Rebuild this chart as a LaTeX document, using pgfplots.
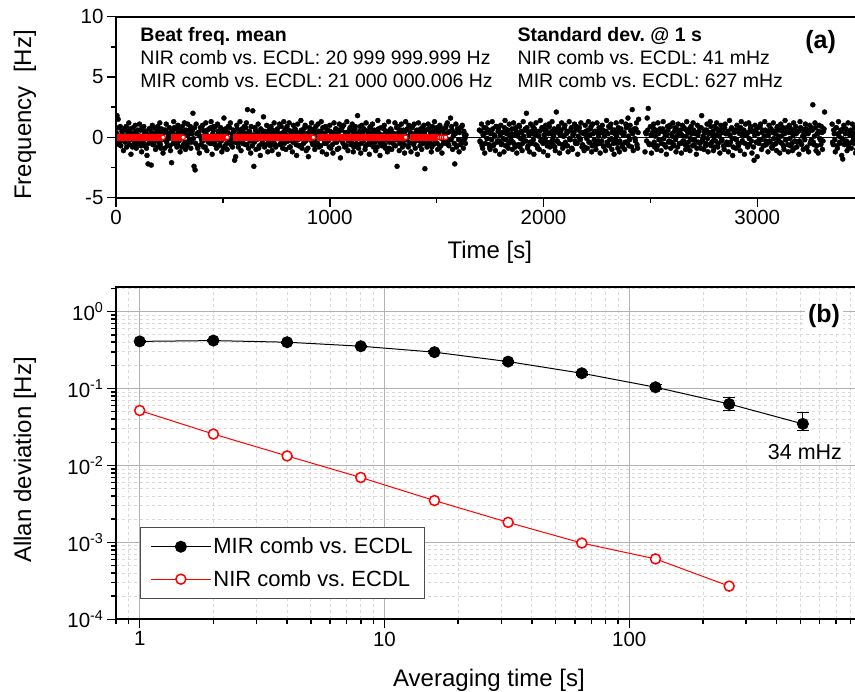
\documentclass[border=0pt]{standalone}
\usepackage{fontspec}
\setmainfont{Liberation Sans}
\usepackage{pgfplots}
\usepackage{pgfplotstable}
\pgfplotsset{compat=1.18}

% beat frequency record (panel a), black points, first half of samples
\pgfplotstableread[row sep=\\]{
t y\\
0 0.4\\ 5 1.8\\ 10 1.5\\ 15 -0.6\\ 20 0.9\\ 25 -0.3\\ 30 0.2\\ 35 -1.1\\ 40 0.7\\ 45 0.1\\
50 -0.8\\ 55 0.5\\ 60 1.2\\ 65 -0.2\\ 70 -1.4\\ 75 0.3\\ 80 0.8\\ 85 -0.5\\ 90 1.0\\ 95 -0.9\\
100 0.2\\ 105 -0.4\\ 110 1.1\\ 115 0.6\\ 120 -1.2\\ 125 -0.1\\ 130 0.9\\ 135 -0.7\\ 140 0.4\\ 145 -1.5\\
150 -2.2\\ 155 0.7\\ 160 -0.3\\ 165 -2.3\\ 170 1.0\\ 175 -0.6\\ 180 0.2\\ 185 -1.0\\ 190 0.5\\ 195 0.9\\
200 -0.4\\ 205 1.2\\ 210 -0.9\\ 215 0.3\\ 220 -1.3\\ 225 0.6\\ 230 -0.2\\ 235 1.1\\ 240 -0.7\\ 245 0.0\\
250 0.8\\ 255 -1.1\\ 260 -2.1\\ 265 0.4\\ 270 1.3\\ 275 -0.5\\ 280 0.7\\ 285 -0.8\\ 290 1.0\\ 295 -0.3\\
300 -1.2\\ 305 0.5\\ 310 0.9\\ 315 -0.6\\ 320 1.2\\ 325 -1.0\\ 330 0.2\\ 335 1.1\\ 340 -0.4\\ 345 0.6\\
350 -0.9\\ 355 0.3\\ 360 2.0\\ 365 -2.4\\ 370 -2.7\\ 375 1.1\\ 380 -0.7\\ 385 0.4\\ 390 -1.3\\ 395 0.8\\
400 -0.2\\ 405 1.0\\ 410 -0.8\\ 415 0.5\\ 420 1.2\\ 425 -1.1\\ 430 0.1\\ 435 0.7\\ 440 -0.5\\ 445 1.3\\
450 -1.4\\ 455 0.6\\ 460 -0.3\\ 465 0.9\\ 470 -0.9\\ 475 1.1\\ 480 0.2\\ 485 -0.6\\ 490 0.8\\ 495 -1.2\\
500 0.4\\ 505 1.6\\ 510 -0.7\\ 515 0.3\\ 520 -1.0\\ 525 0.9\\ 530 -0.4\\ 535 1.2\\ 540 -0.1\\ 545 -0.8\\
550 0.6\\ 555 -1.9\\ 560 -1.6\\ 565 1.0\\ 570 -0.5\\ 575 0.3\\ 580 1.3\\ 585 -1.1\\ 590 0.7\\ 595 -0.2\\
600 0.9\\ 605 -0.6\\ 610 1.2\\ 615 2.3\\ 620 -0.9\\ 625 0.5\\ 630 -1.3\\ 635 0.1\\ 640 2.2\\ 645 -2.4\\
650 0.8\\ 655 -1.0\\ 660 0.3\\ 665 1.1\\ 670 -0.7\\ 675 -1.5\\ 680 0.6\\ 685 -0.3\\ 690 1.7\\ 695 -0.8\\
700 0.2\\ 705 1.0\\ 710 -1.2\\ 715 0.5\\ 720 -0.4\\ 725 0.9\\ 730 -1.1\\ 735 0.4\\ 740 1.2\\ 745 -0.6\\
750 -0.1\\ 755 0.7\\ 760 -1.4\\ 765 1.1\\ 770 -0.5\\ 775 0.3\\ 780 -0.9\\ 785 1.3\\ 790 0.6\\ 795 -1.0\\
800 0.9\\ 805 -0.3\\ 810 1.2\\ 815 -0.8\\ 820 0.4\\ 825 -1.2\\ 830 1.0\\ 835 -0.2\\ 840 0.6\\ 845 -1.5\\
850 1.1\\ 855 -0.7\\ 860 0.2\\ 865 1.4\\ 870 -0.9\\ 875 0.5\\ 880 -0.4\\ 885 1.0\\ 890 -1.1\\ 895 0.3\\
900 -1.6\\ 905 0.8\\ 910 -0.2\\ 915 1.2\\ 920 -0.6\\ 925 0.4\\ 930 -1.0\\ 935 0.9\\ 940 -0.3\\ 945 1.1\\
950 -0.8\\ 955 0.5\\ 960 1.3\\ 965 -1.2\\ 970 0.1\\ 975 -0.5\\ 980 0.9\\ 985 -1.4\\ 990 0.6\\ 995 -0.1\\
1000 1.0\\ 1005 -0.9\\ 1010 0.3\\ 1015 -1.3\\ 1020 1.2\\ 1025 -0.4\\ 1030 0.7\\ 1035 -1.0\\ 1040 0.2\\ 1045 1.1\\
1050 -1.7\\ 1055 0.6\\ 1060 -0.3\\ 1065 1.0\\ 1070 -0.8\\ 1075 0.4\\ 1080 1.3\\ 1085 -1.1\\ 1090 -0.2\\ 1095 0.8\\
1100 -0.6\\ 1105 1.1\\ 1110 -1.2\\ 1115 0.3\\ 1120 0.9\\ 1125 -0.5\\ 1130 1.8\\ 1135 -0.9\\ 1140 0.5\\ 1145 -1.3\\
1150 1.0\\ 1155 -0.2\\ 1160 0.7\\ 1165 -1.0\\ 1170 1.2\\ 1175 -0.6\\ 1180 0.3\\ 1185 -1.4\\ 1190 0.9\\ 1195 -0.4\\
1200 1.1\\ 1205 -0.8\\ 1210 0.4\\ 1215 -1.1\\ 1220 0.6\\ 1225 1.4\\ 1230 -0.3\\ 1235 -1.5\\ 1240 0.8\\ 1245 -0.7\\
1250 0.2\\ 1255 1.0\\ 1260 -0.9\\ 1265 0.5\\ 1270 -1.2\\ 1275 1.3\\ 1280 -0.4\\ 1285 0.7\\ 1290 -1.0\\ 1295 0.3\\
1300 -0.6\\ 1305 1.2\\ 1310 -0.2\\ 1315 -2.4\\ 1320 0.9\\ 1325 -1.1\\ 1330 0.4\\ 1335 1.1\\ 1340 -0.8\\ 1345 0.6\\
1350 -1.3\\ 1355 1.3\\ 1360 0.1\\ 1365 -0.7\\ 1370 1.0\\ 1375 -0.4\\ 1380 -1.2\\ 1385 0.8\\ 1390 -0.1\\ 1395 1.1\\
1400 -0.9\\ 1405 0.5\\ 1410 -1.4\\ 1415 1.2\\ 1420 -0.3\\ 1425 0.7\\ 1430 -1.0\\ 1435 0.3\\ 1440 1.0\\ 1445 -2.6\\
1450 0.6\\ 1455 -0.8\\ 1460 1.1\\ 1465 -0.5\\ 1470 0.2\\ 1475 -1.2\\ 1480 0.9\\ 1485 -0.6\\ 1490 1.3\\ 1495 -0.2\\
1500 0.8\\ 1505 -1.0\\ 1510 0.4\\ 1515 1.0\\ 1520 -0.7\\ 1525 -1.3\\ 1530 0.6\\ 1535 0.3\\ 1540 -0.5\\ 1545 1.0\\
1550 1.2\\ 1555 -0.6\\ 1560 -0.2\\ 1565 1.6\\ 1570 0.9\\ 1575 -1.0\\ 1580 0.4\\ 1585 -2.2\\ 1590 1.1\\ 1595 -0.7\\
1600 0.5\\ 1605 -1.2\\ 1610 0.8\\ 1615 -0.3\\ 1620 1.0\\ 1625 -0.9\\ 1630 0.2\\ 1635 -0.5\\
1700 0.6\\ 1705 -0.4\\ 1710 1.1\\ 1715 -0.9\\ 1720 0.3\\ 1725 -1.3\\ 1730 0.8\\ 1735 -0.1\\ 1740 1.2\\ 1745 -0.6\\
1750 -1.0\\ 1755 0.5\\ 1760 1.3\\ 1765 -0.7\\ 1770 0.2\\ 1775 -1.1\\ 1780 0.9\\ 1785 -0.3\\ 1790 0.7\\ 1795 -1.4\\
1800 1.0\\ 1805 -0.5\\ 1810 0.4\\ 1815 -1.2\\ 1820 1.4\\ 1825 -0.2\\ 1830 0.6\\ 1835 -0.9\\ 1840 1.1\\ 1845 -0.4\\
1850 0.3\\ 1855 -1.0\\ 1860 1.2\\ 1865 -0.6\\ 1870 0.8\\ 1875 -1.3\\ 1880 0.1\\ 1885 1.0\\ 1890 -0.8\\ 1895 0.5\\
1900 -1.1\\ 1905 1.3\\ 1910 -0.3\\ 1915 0.7\\ 1920 2.0\\ 1925 -0.9\\ 1930 0.4\\ 1935 -1.2\\ 1940 1.1\\ 1945 -0.5\\
1950 0.9\\ 1955 -1.4\\ 1960 0.2\\ 1965 1.2\\ 1970 -0.7\\ 1975 0.5\\ 1980 -1.0\\ 1985 1.4\\ 1990 -0.2\\ 1995 0.8\\
2000 -1.2\\ 2005 0.6\\ 2010 1.0\\ 2015 -0.4\\ 2020 -1.5\\ 2025 1.1\\ 2030 -0.8\\ 2035 0.3\\ 2040 1.3\\ 2045 -0.6\\
2050 0.7\\ 2055 -1.1\\ 2060 2.1\\ 2065 -0.3\\ 2070 0.9\\ 2075 -1.3\\ 2080 0.4\\ 2085 1.2\\ 2090 -0.9\\ 2095 0.1\\
2100 1.0\\ 2105 -0.7\\ 2110 0.5\\ 2115 -1.2\\ 2120 1.3\\ 2125 -0.2\\ 2130 0.8\\ 2135 -1.0\\ 2140 0.3\\ 2145 1.1\\
2150 -0.5\\ 2155 0.9\\ 2160 -1.4\\ 2165 0.6\\ 2170 -0.1\\ 2175 1.2\\ 2180 -0.8\\ 2185 0.4\\ 2190 -1.1\\ 2195 1.0\\
2200 0.2\\ 2205 -0.9\\ 2210 1.3\\ 2215 -0.4\\ 2220 0.7\\ 2225 -1.2\\ 2230 1.1\\ 2235 -0.6\\ 2240 0.5\\ 2245 -1.0\\
2250 1.2\\ 2255 -0.3\\ 2260 0.8\\ 2265 -1.3\\ 2270 0.4\\ 2275 1.0\\ 2280 -0.7\\ 2285 0.1\\ 2290 -1.1\\ 2295 1.4\\
2300 -0.6\\ 2305 0.9\\ 2310 -0.2\\ 2315 1.1\\ 2320 -1.0\\ 2325 0.6\\ 2330 -1.4\\ 2335 0.3\\ 2340 1.2\\ 2345 -0.5\\
2350 0.8\\ 2355 -1.2\\ 2360 0.4\\ 2365 1.3\\ 2370 -0.8\\ 2375 0.2\\ 2380 -1.0\\ 2385 1.1\\ 2390 -0.4\\ 2395 1.6\\
2400 -0.7\\ 2405 1.0\\ 2410 0.5\\ 2415 2.3\\ 2420 -1.1\\ 2425 0.7\\ 2430 -0.3\\ 2435 1.2\\ 2440 -0.9\\ 2445 1.5\\
2475 -1.2\\ 2480 0.3\\ 2485 1.6\\ 2490 2.4\\ 2495 -0.6\\
2500 0.9\\ 2505 -1.3\\ 2510 0.4\\ 2515 1.1\\ 2520 -0.8\\ 2525 0.6\\ 2530 -1.0\\ 2535 1.2\\ 2540 -0.2\\ 2545 0.7\\
2550 -1.1\\ 2555 0.5\\ 2560 1.3\\ 2565 -0.6\\ 2570 0.2\\ 2575 -1.4\\ 2580 0.9\\ 2585 -0.4\\ 2590 1.0\\ 2595 -0.9\\
2600 0.3\\ 2605 1.2\\ 2610 -0.7\\ 2615 0.8\\ 2620 -1.2\\ 2625 0.1\\ 2630 1.1\\ 2635 -0.5\\ 2640 0.6\\ 2645 -1.3\\
2650 1.0\\ 2655 -0.3\\ 2660 0.7\\ 2665 -1.0\\ 2670 1.3\\ 2675 -0.8\\ 2680 0.4\\ 2685 -1.1\\ 2690 0.9\\ 2695 -0.2\\
2700 1.2\\ 2705 -0.6\\ 2710 0.3\\ 2715 -1.4\\ 2720 1.0\\ 2725 -0.4\\ 2730 0.8\\ 2735 -0.9\\ 2740 1.8\\ 2745 -0.1\\
2750 -1.0\\ 2755 0.6\\ 2760 -0.5\\ 2765 1.1\\ 2770 -1.2\\ 2775 0.4\\ 2780 1.3\\ 2785 -0.7\\ 2790 0.2\\ 2795 -1.1\\
2800 0.9\\ 2805 -0.3\\ 2810 1.2\\ 2815 -0.8\\ 2820 0.5\\ 2825 -1.3\\ 2830 1.0\\ 2835 -0.2\\ 2840 0.7\\ 2845 -1.0\\
2850 1.1\\ 2855 -0.6\\ 2860 0.3\\ 2865 -1.2\\ 2870 1.4\\ 2875 -0.4\\ 2880 0.8\\ 2885 -1.5\\ 2890 0.6\\ 2895 -0.1\\
2900 -0.9\\ 2905 1.0\\ 2910 -0.5\\ 2915 0.7\\ 2920 -1.1\\ 2925 1.3\\ 2930 -0.3\\ 2935 0.4\\ 2940 -1.4\\ 2945 1.1\\
2950 0.2\\ 2955 -0.8\\ 2960 1.2\\ 2965 -0.6\\ 2970 0.9\\ 2975 -1.3\\ 2980 0.5\\ 2985 -1.9\\ 2990 1.0\\ 2995 -0.4\\
3000 -1.6\\ 3005 0.8\\ 3010 -0.2\\ 3015 1.1\\ 3020 -1.0\\ 3025 0.6\\ 3030 -0.7\\ 3035 1.3\\ 3040 -0.3\\ 3045 0.5\\
3050 -1.2\\ 3055 1.0\\ 3060 -0.4\\ 3065 0.7\\ 3070 -0.9\\ 3075 1.2\\ 3080 -0.6\\ 3085 0.3\\ 3090 -1.1\\ 3095 0.9\\
3100 0.1\\ 3105 -1.3\\ 3110 1.1\\ 3115 -0.5\\ 3120 0.8\\ 3125 -1.0\\ 3130 1.4\\ 3135 -0.2\\ 3140 0.6\\ 3145 -1.2\\
3150 1.0\\ 3155 -0.7\\ 3160 0.4\\ 3165 -1.1\\ 3170 1.2\\ 3175 -0.3\\ 3180 0.9\\ 3185 -0.8\\ 3190 0.5\\ 3195 -1.4\\
3200 1.3\\ 3205 -0.5\\ 3210 0.7\\ 3215 -1.0\\ 3220 0.2\\ 3225 1.1\\ 3230 -0.9\\ 3235 0.6\\ 3240 -1.2\\ 3245 1.0\\
3250 -0.4\\ 3255 0.8\\ 3260 2.7\\ 3265 -0.6\\ 3270 1.2\\ 3275 -1.1\\ 3280 0.3\\ 3285 -1.3\\ 3290 1.0\\ 3295 -0.2\\
3300 0.9\\ 3305 -1.0\\ 3310 0.5\\ 3315 2.1\\
3350 1.1\\ 3355 -0.6\\ 3360 0.3\\ 3365 -1.2\\ 3370 0.8\\ 3375 -0.9\\ 3380 1.3\\ 3385 -0.4\\ 3390 0.6\\ 3395 -1.5\\
3400 -1.8\\ 3405 1.0\\ 3410 -0.3\\ 3415 0.7\\ 3420 -1.1\\ 3425 1.2\\ 3430 -0.5\\ 3435 0.4\\ 3440 -0.9\\ 3445 1.1\\
3450 -0.2\\ 3455 0.8\\ 3460 -1.3\\ 3465 -1.0\\ 3470 0.5\\ 3475 -0.7\\ 3480 1.2\\ 3485 -0.4\\ 3490 0.3\\
}\beatdata

% second half of samples (in between)
\pgfplotstableread[row sep=\\]{
t y\\
2.5 0.3\\ 7.5 -0.5\\ 12.5 0.8\\ 17.5 0.1\\ 22.5 -0.7\\ 27.5 0.5\\ 32.5 -0.2\\ 37.5 0.6\\ 42.5 -0.4\\ 47.5 0.9\\
52.5 -0.1\\ 57.5 0.4\\ 62.5 -0.6\\ 67.5 0.7\\ 72.5 0.2\\ 77.5 -0.8\\ 82.5 0.3\\ 87.5 -0.3\\ 92.5 0.5\\ 97.5 -0.6\\
102.5 0.6\\ 107.5 -0.2\\ 112.5 0.1\\ 117.5 -0.7\\ 122.5 0.8\\ 127.5 -0.4\\ 132.5 0.3\\ 137.5 0.5\\ 142.5 -0.9\\ 147.5 0.2\\
152.5 -0.5\\ 157.5 0.7\\ 162.5 -0.1\\ 167.5 0.4\\ 172.5 -0.6\\ 177.5 0.8\\ 182.5 -0.3\\ 187.5 0.1\\ 192.5 -0.8\\ 197.5 0.5\\
202.5 0.2\\ 207.5 -0.6\\ 212.5 0.7\\ 217.5 -0.2\\ 222.5 0.4\\ 227.5 -0.9\\ 232.5 0.6\\ 237.5 -0.4\\ 242.5 0.3\\ 247.5 -0.1\\
252.5 -0.7\\ 257.5 0.5\\ 262.5 0.1\\ 267.5 -0.5\\ 272.5 0.8\\ 277.5 -0.3\\ 282.5 0.2\\ 287.5 -0.6\\ 292.5 0.4\\ 297.5 0.7\\
302.5 0.1\\ 307.5 -0.8\\ 312.5 0.5\\ 317.5 0.3\\ 322.5 -0.4\\ 327.5 0.6\\ 332.5 -0.7\\ 337.5 0.2\\ 342.5 -0.2\\ 347.5 0.9\\
352.5 -0.4\\ 357.5 0.6\\ 362.5 -0.1\\ 367.5 0.8\\ 372.5 -0.5\\ 377.5 0.3\\ 382.5 -0.9\\ 387.5 0.4\\ 392.5 0.1\\ 397.5 -0.6\\
402.5 0.7\\ 407.5 -0.3\\ 412.5 0.5\\ 417.5 -0.8\\ 422.5 0.2\\ 427.5 0.6\\ 432.5 -0.4\\ 437.5 -0.1\\ 442.5 0.8\\ 447.5 -0.5\\
452.5 0.3\\ 457.5 0.9\\ 462.5 -0.6\\ 467.5 0.1\\ 472.5 -0.2\\ 477.5 0.5\\ 482.5 -0.7\\ 487.5 0.4\\ 492.5 -0.3\\ 497.5 0.6\\
502.5 -0.9\\ 507.5 0.2\\ 512.5 0.7\\ 517.5 -0.5\\ 522.5 0.4\\ 527.5 -0.1\\ 532.5 0.8\\ 537.5 -0.6\\ 542.5 0.3\\ 547.5 -0.3\\
552.5 0.5\\ 557.5 -0.4\\ 562.5 0.1\\ 567.5 0.7\\ 572.5 -0.8\\ 577.5 0.2\\ 582.5 -0.2\\ 587.5 0.6\\ 592.5 -0.5\\ 597.5 0.4\\
602.5 -0.1\\ 607.5 0.8\\ 612.5 -0.6\\ 617.5 0.3\\ 622.5 0.5\\ 627.5 -0.3\\ 632.5 0.9\\ 637.5 -0.7\\ 642.5 0.2\\ 647.5 -0.4\\
652.5 0.6\\ 657.5 -0.2\\ 662.5 0.4\\ 667.5 -0.9\\ 672.5 0.1\\ 677.5 0.7\\ 682.5 -0.5\\ 687.5 0.3\\ 692.5 -0.1\\ 697.5 0.5\\
702.5 -0.6\\ 707.5 0.4\\ 712.5 -0.3\\ 717.5 0.8\\ 722.5 -0.7\\ 727.5 0.2\\ 732.5 0.6\\ 737.5 -0.4\\ 742.5 0.1\\ 747.5 -0.8\\
752.5 0.5\\ 757.5 -0.1\\ 762.5 0.3\\ 767.5 -0.6\\ 772.5 0.9\\ 777.5 -0.2\\ 782.5 0.4\\ 787.5 -0.5\\ 792.5 0.7\\ 797.5 0.2\\
802.5 -0.3\\ 807.5 0.6\\ 812.5 -0.8\\ 817.5 0.1\\ 822.5 0.5\\ 827.5 -0.4\\ 832.5 0.2\\ 837.5 0.7\\ 842.5 -0.6\\ 847.5 0.3\\
852.5 -0.2\\ 857.5 0.4\\ 862.5 -0.7\\ 867.5 0.6\\ 872.5 0.1\\ 877.5 -0.5\\ 882.5 0.8\\ 887.5 -0.3\\ 892.5 0.2\\ 897.5 -0.9\\
902.5 0.4\\ 907.5 -0.1\\ 912.5 0.6\\ 917.5 -0.4\\ 922.5 0.3\\ 927.5 0.7\\ 932.5 -0.6\\ 937.5 0.2\\ 942.5 -0.5\\ 947.5 0.5\\
952.5 0.1\\ 957.5 -0.7\\ 962.5 0.4\\ 967.5 0.8\\ 972.5 -0.2\\ 977.5 0.3\\ 982.5 -0.5\\ 987.5 0.6\\ 992.5 -0.3\\ 997.5 -0.8\\
1002.5 0.5\\ 1007.5 0.2\\ 1012.5 -0.6\\ 1017.5 0.4\\ 1022.5 -0.1\\ 1027.5 0.7\\ 1032.5 -0.4\\ 1037.5 0.3\\ 1042.5 -0.9\\ 1047.5 0.6\\
1052.5 -0.2\\ 1057.5 0.8\\ 1062.5 -0.5\\ 1067.5 0.1\\ 1072.5 0.4\\ 1077.5 -0.7\\ 1082.5 0.3\\ 1087.5 -0.3\\ 1092.5 0.6\\ 1097.5 0.1\\
1102.5 -0.4\\ 1107.5 0.5\\ 1112.5 -0.8\\ 1117.5 0.7\\ 1122.5 -0.1\\ 1127.5 0.3\\ 1132.5 -0.6\\ 1137.5 0.2\\ 1142.5 0.9\\ 1147.5 -0.5\\
1152.5 0.3\\ 1157.5 -0.3\\ 1162.5 0.6\\ 1167.5 -0.7\\ 1172.5 0.1\\ 1177.5 0.5\\ 1182.5 -0.2\\ 1187.5 0.8\\ 1192.5 -0.6\\ 1197.5 0.4\\
1202.5 -0.1\\ 1207.5 0.6\\ 1212.5 -0.4\\ 1217.5 0.2\\ 1222.5 -0.8\\ 1227.5 0.7\\ 1232.5 0.3\\ 1237.5 -0.5\\ 1242.5 0.1\\ 1247.5 -0.3\\
1252.5 0.7\\ 1257.5 -0.6\\ 1262.5 0.4\\ 1267.5 -0.2\\ 1272.5 0.5\\ 1277.5 -0.9\\ 1282.5 0.2\\ 1287.5 0.6\\ 1292.5 -0.4\\ 1297.5 0.1\\
1302.5 0.3\\ 1307.5 -0.7\\ 1312.5 0.8\\ 1317.5 -0.1\\ 1322.5 0.4\\ 1327.5 -0.5\\ 1332.5 0.6\\ 1337.5 -0.3\\ 1342.5 0.2\\ 1347.5 -0.6\\
1352.5 0.5\\ 1357.5 -0.2\\ 1362.5 0.7\\ 1367.5 -0.8\\ 1372.5 0.1\\ 1377.5 0.4\\ 1382.5 -0.4\\ 1387.5 0.9\\ 1392.5 -0.6\\ 1397.5 0.3\\
1402.5 -0.3\\ 1407.5 0.6\\ 1412.5 -0.1\\ 1417.5 0.5\\ 1422.5 -0.7\\ 1427.5 0.2\\ 1432.5 0.8\\ 1437.5 -0.5\\ 1442.5 0.4\\ 1447.5 -0.2\\
1452.5 0.1\\ 1457.5 -0.6\\ 1462.5 0.7\\ 1467.5 -0.3\\ 1472.5 0.4\\ 1477.5 -0.8\\ 1482.5 0.5\\ 1487.5 0.2\\ 1492.5 -0.4\\ 1497.5 0.6\\
1502.5 -0.5\\ 1507.5 0.3\\ 1512.5 -0.9\\ 1517.5 0.6\\ 1522.5 -0.1\\ 1527.5 0.7\\ 1532.5 -0.4\\ 1537.5 0.2\\ 1542.5 0.8\\ 1547.5 -0.3\\
1552.5 0.4\\ 1557.5 -0.7\\ 1562.5 0.5\\ 1567.5 -0.2\\ 1572.5 0.6\\ 1577.5 0.1\\ 1582.5 -0.5\\ 1587.5 0.3\\ 1592.5 -0.8\\ 1597.5 0.7\\
1602.5 -0.2\\ 1607.5 0.4\\ 1612.5 -0.6\\ 1617.5 0.9\\ 1622.5 -0.3\\ 1627.5 0.5\\ 1632.5 -0.1\\ 1637.5 0.2\\
1702.5 -0.3\\ 1707.5 0.5\\ 1712.5 -0.7\\ 1717.5 0.2\\ 1722.5 0.8\\ 1727.5 -0.5\\ 1732.5 0.4\\ 1737.5 -0.1\\ 1742.5 0.6\\ 1747.5 -0.8\\
1752.5 0.3\\ 1757.5 -0.2\\ 1762.5 0.7\\ 1767.5 -0.6\\ 1772.5 0.1\\ 1777.5 0.9\\ 1782.5 -0.4\\ 1787.5 0.5\\ 1792.5 -0.3\\ 1797.5 0.2\\
1802.5 -0.6\\ 1807.5 0.4\\ 1812.5 -0.1\\ 1817.5 0.8\\ 1822.5 -0.7\\ 1827.5 0.3\\ 1832.5 0.6\\ 1837.5 -0.5\\ 1842.5 0.1\\ 1847.5 -0.2\\
1852.5 0.7\\ 1857.5 -0.4\\ 1862.5 0.2\\ 1867.5 -0.8\\ 1872.5 0.5\\ 1877.5 0.3\\ 1882.5 -0.6\\ 1887.5 0.9\\ 1892.5 -0.1\\ 1897.5 0.4\\
1902.5 -0.5\\ 1907.5 0.1\\ 1912.5 0.6\\ 1917.5 -0.3\\ 1922.5 0.8\\ 1927.5 -0.7\\ 1932.5 0.2\\ 1937.5 -0.4\\ 1942.5 0.5\\ 1947.5 0.3\\
1952.5 -0.2\\ 1957.5 0.7\\ 1962.5 -0.6\\ 1967.5 0.4\\ 1972.5 -0.9\\ 1977.5 0.1\\ 1982.5 0.5\\ 1987.5 -0.3\\ 1992.5 0.8\\ 1997.5 -0.5\\
2002.5 0.2\\ 2007.5 -0.1\\ 2012.5 0.6\\ 2017.5 -0.7\\ 2022.5 0.3\\ 2027.5 0.9\\ 2032.5 -0.4\\ 2037.5 0.5\\ 2042.5 -0.2\\ 2047.5 0.1\\
2052.5 -0.8\\ 2057.5 0.4\\ 2062.5 -0.3\\ 2067.5 0.7\\ 2072.5 -0.5\\ 2077.5 0.2\\ 2082.5 0.6\\ 2087.5 -0.6\\ 2092.5 0.1\\ 2097.5 0.8\\
2102.5 -0.4\\ 2107.5 0.3\\ 2112.5 -0.7\\ 2117.5 0.5\\ 2122.5 -0.1\\ 2127.5 0.6\\ 2132.5 -0.9\\ 2137.5 0.2\\ 2142.5 0.4\\ 2147.5 -0.3\\
2152.5 0.7\\ 2157.5 -0.5\\ 2162.5 0.1\\ 2167.5 0.8\\ 2172.5 -0.2\\ 2177.5 0.4\\ 2182.5 -0.6\\ 2187.5 0.3\\ 2192.5 -0.8\\ 2197.5 0.5\\
2202.5 -0.1\\ 2207.5 0.6\\ 2212.5 -0.4\\ 2217.5 0.2\\ 2222.5 0.9\\ 2227.5 -0.7\\ 2232.5 0.3\\ 2237.5 -0.2\\ 2242.5 0.5\\ 2247.5 -0.6\\
2252.5 0.4\\ 2257.5 0.1\\ 2262.5 -0.5\\ 2267.5 0.7\\ 2272.5 -0.3\\ 2277.5 0.6\\ 2282.5 -0.8\\ 2287.5 0.2\\ 2292.5 0.5\\ 2297.5 -0.4\\
2302.5 0.3\\ 2307.5 -0.7\\ 2312.5 0.8\\ 2317.5 -0.1\\ 2322.5 0.4\\ 2327.5 -0.5\\ 2332.5 0.6\\ 2337.5 -0.2\\ 2342.5 0.1\\ 2347.5 -0.9\\
2352.5 0.5\\ 2357.5 -0.3\\ 2362.5 0.7\\ 2367.5 -0.6\\ 2372.5 0.2\\ 2377.5 0.4\\ 2382.5 -0.4\\ 2387.5 0.8\\ 2392.5 -0.5\\ 2397.5 0.1\\
2402.5 -0.2\\ 2407.5 0.6\\ 2412.5 -0.8\\ 2417.5 0.3\\ 2422.5 0.5\\ 2427.5 -0.1\\ 2432.5 0.7\\ 2437.5 -0.6\\ 2442.5 0.4\\
2477.5 0.4\\ 2482.5 -0.3\\ 2487.5 0.6\\ 2492.5 -0.5\\
2502.5 0.2\\ 2507.5 -0.6\\ 2512.5 0.8\\ 2517.5 -0.4\\ 2522.5 0.1\\ 2527.5 0.5\\ 2532.5 -0.7\\ 2537.5 0.3\\ 2542.5 -0.2\\ 2547.5 0.6\\
2552.5 -0.5\\ 2557.5 0.7\\ 2562.5 -0.1\\ 2567.5 0.4\\ 2572.5 -0.8\\ 2577.5 0.2\\ 2582.5 0.6\\ 2587.5 -0.3\\ 2592.5 0.9\\ 2597.5 -0.4\\
2602.5 0.1\\ 2607.5 -0.6\\ 2612.5 0.5\\ 2617.5 -0.2\\ 2622.5 0.7\\ 2627.5 -0.8\\ 2632.5 0.3\\ 2637.5 0.4\\ 2642.5 -0.5\\ 2647.5 0.2\\
2652.5 -0.3\\ 2657.5 0.8\\ 2662.5 -0.6\\ 2667.5 0.1\\ 2672.5 0.5\\ 2677.5 -0.4\\ 2682.5 0.7\\ 2687.5 -0.1\\ 2692.5 0.3\\ 2697.5 -0.7\\
2702.5 0.6\\ 2707.5 -0.2\\ 2712.5 0.4\\ 2717.5 -0.9\\ 2722.5 0.2\\ 2727.5 0.5\\ 2732.5 -0.5\\ 2737.5 0.8\\ 2742.5 -0.3\\ 2747.5 0.1\\
2752.5 0.4\\ 2757.5 -0.7\\ 2762.5 0.6\\ 2767.5 -0.1\\ 2772.5 0.3\\ 2777.5 -0.6\\ 2782.5 0.9\\ 2787.5 -0.4\\ 2792.5 0.5\\ 2797.5 -0.2\\
2802.5 -0.8\\ 2807.5 0.2\\ 2812.5 0.7\\ 2817.5 -0.5\\ 2822.5 0.1\\ 2827.5 0.6\\ 2832.5 -0.3\\ 2837.5 0.4\\ 2842.5 -0.7\\ 2847.5 0.8\\
2852.5 0.3\\ 2857.5 -0.4\\ 2862.5 0.5\\ 2867.5 -0.6\\ 2872.5 0.2\\ 2877.5 0.7\\ 2882.5 -0.1\\ 2887.5 -0.8\\ 2892.5 0.4\\ 2897.5 0.6\\
2902.5 -0.2\\ 2907.5 0.5\\ 2912.5 -0.7\\ 2917.5 0.3\\ 2922.5 0.8\\ 2927.5 -0.4\\ 2932.5 0.1\\ 2937.5 0.6\\ 2942.5 -0.5\\ 2947.5 0.2\\
2952.5 -0.6\\ 2957.5 0.4\\ 2962.5 -0.1\\ 2967.5 0.7\\ 2972.5 -0.3\\ 2977.5 0.5\\ 2982.5 -0.8\\ 2987.5 0.2\\ 2992.5 0.6\\ 2997.5 -0.4\\
3002.5 0.3\\ 3007.5 -0.5\\ 3012.5 0.9\\ 3017.5 -0.2\\ 3022.5 0.4\\ 3027.5 -0.7\\ 3032.5 0.1\\ 3037.5 0.6\\ 3042.5 -0.6\\ 3047.5 0.5\\
3052.5 0.2\\ 3057.5 -0.3\\ 3062.5 0.7\\ 3067.5 -0.8\\ 3072.5 0.4\\ 3077.5 -0.1\\ 3082.5 0.5\\ 3087.5 -0.5\\ 3092.5 0.8\\ 3097.5 -0.2\\
3102.5 0.6\\ 3107.5 -0.4\\ 3112.5 0.1\\ 3117.5 0.5\\ 3122.5 -0.7\\ 3127.5 0.3\\ 3132.5 -0.2\\ 3137.5 0.8\\ 3142.5 -0.6\\ 3147.5 0.4\\
3152.5 -0.1\\ 3157.5 0.7\\ 3162.5 -0.5\\ 3167.5 0.2\\ 3172.5 -0.9\\ 3177.5 0.6\\ 3182.5 0.3\\ 3187.5 -0.4\\ 3192.5 0.5\\ 3197.5 -0.3\\
3202.5 0.8\\ 3207.5 -0.6\\ 3212.5 0.1\\ 3217.5 0.4\\ 3222.5 -0.2\\ 3227.5 0.7\\ 3232.5 -0.8\\ 3237.5 0.3\\ 3242.5 0.5\\ 3247.5 -0.5\\
3252.5 -0.2\\ 3257.5 0.6\\ 3262.5 -0.4\\ 3267.5 0.1\\ 3272.5 0.8\\ 3277.5 -0.7\\ 3282.5 0.3\\ 3287.5 0.5\\ 3292.5 -0.1\\ 3297.5 -0.6\\
3302.5 0.4\\ 3307.5 -0.3\\ 3312.5 0.7\\
3352.5 -0.4\\ 3357.5 0.6\\ 3362.5 -0.2\\ 3367.5 0.8\\ 3372.5 -0.7\\ 3377.5 0.3\\ 3382.5 0.1\\ 3387.5 -0.5\\ 3392.5 0.5\\ 3397.5 -0.1\\
3402.5 0.7\\ 3407.5 -0.6\\ 3412.5 0.3\\ 3417.5 -0.3\\ 3422.5 0.5\\ 3427.5 -0.8\\ 3432.5 0.2\\ 3437.5 0.6\\ 3442.5 -0.4\\ 3447.5 0.1\\
3452.5 -0.5\\ 3457.5 0.4\\ 3462.5 -0.2\\ 3467.5 0.7\\ 3472.5 -0.6\\ 3477.5 0.3\\ 3482.5 0.8\\ 3487.5 -0.3\\
}\beatdatab

% Allan deviation (panel b)
\pgfplotstableread{
t a ep em
1 0.41 0.01 0.01
2 0.42 0.01 0.01
4 0.40 0.01 0.01
8 0.355 0.01 0.01
16 0.297 0.01 0.01
32 0.224 0.01 0.01
64 0.158 0.008 0.008
128 0.104 0.008 0.008
256 0.063 0.014 0.011
512 0.0347 0.014 0.006
}\mirdata

\pgfplotstableread{
t a
1 0.0518
2 0.0256
4 0.0133
8 0.00698
16 0.0035
32 0.00182
64 0.00098
128 0.00061
256 0.00027
}\nirdata

\begin{document}
\frenchspacing
\begin{tikzpicture}
\pgfplotsset{
  every axis/.append style={
    scale only axis, width=746pt,
    tick align=outside, tick pos=left,
    major tick length=9pt, minor tick length=5pt,
    axis line style={line width=1.8pt},
    tick style={line width=1.5pt, black},
    ticklabel style={font=\fontsize{20.5}{24}\selectfont},
    label style={font=\fontsize{24}{28}\selectfont},
    /pgf/number format/assume math mode=true,
    /pgf/number format/1000 sep={},
  },
}

% ---------- panel (a)
\begin{axis}[
  at={(116pt,-197.7pt)}, anchor=south west, height=181pt,
  xmin=0, xmax=3490, ymin=-5, ymax=10,
  clip marker paths=true,
  xtick={0,1000,2000,3000}, minor xtick={500,1500,2500},
  ytick={-5,0,5,10}, minor ytick={-2.5,2.5,7.5},
  xlabel={Time [s]}, ylabel={Frequency\ \ [Hz]},
  xlabel style={at={(axis description cs:0.501,-0.30)}, anchor=center},
  ylabel style={at={(axis description cs:-0.122,0.457)}, anchor=center},
]
\addplot[black, line width=1pt] coordinates {(0,0) (3490,0)};
\addplot[only marks, mark=*, mark size=2.5pt, black] table[x=t, y=y] {\beatdata};
\addplot[only marks, mark=*, mark size=2.5pt, black] table[x=t, y=y] {\beatdatab};
\addplot[red, line width=7pt, unbounded coords=jump] coordinates {
  (5,0) (220,0) (220,nan) (258,0) (314,0) (314,nan) (403,0) (520,0) (520,nan)
  (548,0) (923,0) (923,nan) (942,0) (1355,0) (1355,nan) (1374,0) (1505,0)};
\addplot[only marks, mark=*, mark size=2.3pt, red, mark options={fill=white, line width=1.2pt}]
  coordinates {(220,0) (314,0) (520,0) (923,0) (1355,0) (1512,0) (1522,0) (1532,0) (1542,0)};

\node[anchor=base west, font=\fontsize{19.5}{22}\selectfont\bfseries] at (axis cs:98,7.91) {Beat freq. mean};
\node[anchor=base west, font=\fontsize{19.5}{22}\selectfont] at (axis cs:98,6.01) {NIR comb vs. ECDL: 20 999 999.999 Hz};
\node[anchor=base west, font=\fontsize{19.5}{22}\selectfont] at (axis cs:98,4.11) {MIR comb vs. ECDL: 21 000 000.006 Hz};
\node[anchor=base west, font=\fontsize{19.5}{22}\selectfont\bfseries] at (axis cs:1862,7.91) {Standard dev. @ 1 s};
\node[anchor=base west, font=\fontsize{19.5}{22}\selectfont] at (axis cs:1862,6.01) {NIR comb vs. ECDL: 41 mHz};
\node[anchor=base west, font=\fontsize{19.5}{22}\selectfont] at (axis cs:1862,4.11) {MIR comb vs. ECDL: 627 mHz};
\node[anchor=base west, inner sep=0pt, font=\fontsize{25}{28}\selectfont\bfseries] at (axis cs:3224,7.35) {(a)};
\end{axis}

% ---------- panel (b)
\begin{axis}[
  at={(116pt,-619.3pt)}, anchor=south west, height=332pt,
  xmode=log, ymode=log,
  xmin=0.8, xmax=893, ymin=1e-4, ymax=2.07,
  xtick={1,10,100}, xticklabels={1,10,100},
  minor xtick={0.8,0.9,2,3,4,5,6,7,8,9,20,30,40,50,60,70,80,90,200,300,400,500,600,700,800},
  ytick={1e-4,1e-3,1e-2,1e-1,1},
  yticklabels={10\textsuperscript{-4},10\textsuperscript{-3},10\textsuperscript{-2},10\textsuperscript{-1},10\textsuperscript{0}},
  minor ytick={2e-4,3e-4,4e-4,5e-4,6e-4,7e-4,8e-4,9e-4,
               2e-3,3e-3,4e-3,5e-3,6e-3,7e-3,8e-3,9e-3,
               2e-2,3e-2,4e-2,5e-2,6e-2,7e-2,8e-2,9e-2,
               0.2,0.3,0.4,0.5,0.6,0.7,0.8,0.9,2},
  grid=both,
  major grid style={line width=1pt, black!30},
  minor grid style={line width=0.8pt, black!15, dashed},
  xlabel={Averaging time [s]}, ylabel={Allan deviation [Hz]},
  xlabel style={at={(axis description cs:0.5,-0.183)}, anchor=center},
  ylabel style={at={(axis description cs:-0.122,0.48)}, anchor=center},
  legend style={at={(rel axis cs:0.032,0.06)}, anchor=south west,
    draw=black!70, line width=1pt, fill=white,
    font=\fontsize{22}{26}\selectfont, inner xsep=10pt, inner ysep=9pt,
    row sep=11pt},
  legend cell align=left,
  legend image code/.code={\draw[mark repeat=2, mark phase=2]
    plot coordinates {(0pt,0pt) (30pt,0pt) (60pt,0pt)};},
]
\addplot[black, line width=1pt, mark=*, mark size=5.5pt,
  error bars/.cd, y dir=both, y explicit,
  error bar style={line width=1.2pt},
  error mark options={rotate=90, mark size=6pt, line width=1.2pt}]
  table[x=t, y=a, y error plus=ep, y error minus=em] {\mirdata};
\addlegendentry{MIR comb vs. ECDL}
\addplot[red, line width=1pt, mark=*, mark size=5pt,
  mark options={fill=white, draw=red, line width=1.5pt}]
  table[x=t, y=a] {\nirdata};
\addlegendentry{NIR comb vs. ECDL}

\node[font=\fontsize{21.5}{24}\selectfont] at (axis cs:522,0.0151) {34 mHz};
\node[anchor=base west, fill=white, inner sep=3pt, font=\fontsize{25}{28}\selectfont\bfseries] at (axis cs:522,0.713) {(b)};
\end{axis}

\pgfresetboundingbox
\path (0pt,0pt) rectangle (855pt,-692pt);
\end{tikzpicture}
\end{document}
